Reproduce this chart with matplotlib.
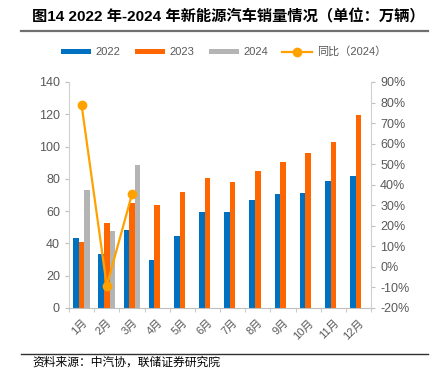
import matplotlib.pyplot as plt
import numpy as np

plt.rcParams['font.family'] = ['Liberation Sans', 'Noto Sans CJK SC', 'DejaVu Sans']

months = ['1月', '2月', '3月', '4月', '5月', '6月', '7月', '8月', '9月', '10月', '11月', '12月']
sales_2022 = [43.2, 33.4, 48.2, 29.9, 44.7, 59.7, 59.3, 66.7, 70.8, 71.2, 78.6, 81.5]
sales_2023 = [40.8, 52.5, 65.3, 63.6, 71.6, 80.5, 78.0, 84.8, 90.4, 95.7, 102.9, 119.4]
sales_2024 = [73.1, 47.8, 88.3]
yoy_2024 = [78.8, -9.2, 35.3]

grey_txt = '#595959'
c22, c23, c24, cline = '#0070C0', '#FF6600', '#B4B4B4', '#FFA200'

fig = plt.figure(figsize=(4.34, 3.71), dpi=100)
ax = fig.add_axes([0.159, 0.170, 0.696, 0.609])
ax2 = ax.twinx()

x = np.arange(len(months))
w = 0.22
b1 = ax.bar(x - w, sales_2022, w, color=c22, label='2022')
b2 = ax.bar(x, sales_2023, w, color=c23, label='2023')
b3 = ax.bar(x[:len(sales_2024)] + w, sales_2024, w, color=c24, label='2024')
l1, = ax2.plot(x[:len(yoy_2024)], yoy_2024, color=cline, lw=1.6, marker='o', ms=6,
               label='同比（2024）')

ax.set_xlim(-0.5, len(months) - 0.5)
ax.set_ylim(0, 140)
ax.set_yticks(range(0, 141, 20))
ax2.set_ylim(-20, 90)
ax2.set_yticks(range(-20, 91, 10))
ax2.set_yticklabels([f'{v}%' for v in range(-20, 91, 10)])

ax.set_xticks(x)
ax.set_xticklabels(months, rotation=45, ha='right', rotation_mode='anchor')
ax.set_xticks(np.arange(-0.5, len(months), 1), minor=True)
ax.tick_params(axis='x', which='major', length=0, colors=grey_txt, labelsize=8, pad=7)
ax.tick_params(axis='x', which='minor', length=3, color='#BFBFBF')
ax.tick_params(axis='y', length=3, color='#BFBFBF', labelcolor=grey_txt, labelsize=9)
ax2.tick_params(axis='y', length=3, color='#BFBFBF', labelcolor=grey_txt, labelsize=9)
for a in (ax, ax2):
    for s in a.spines.values():
        s.set_visible(False)
ax.spines['left'].set_visible(True)
ax.spines['bottom'].set_visible(True)
ax2.spines['right'].set_visible(True)
ax.spines['left'].set_color('#D0D0D0')
ax.spines['bottom'].set_color('#BFBFBF')
ax2.spines['right'].set_color('#D0D0D0')

handles = [b1, b2, b3, l1]
leg = fig.legend(handles, ['2022', '2023', '2024', '同比（2024）'], loc='center',
                 bbox_to_anchor=(0.515, 0.860), ncol=4, frameon=False, fontsize=8,
                 handlelength=2.7, handleheight=0.35, columnspacing=1.3, handletextpad=0.4)
for t in leg.get_texts():
    t.set_color(grey_txt)

fig.text(0.074, 0.955, '图14 2022 年-2024 年新能源汽车销量情况（单位：万辆）',
         fontsize=11, fontweight='bold', va='center', ha='left',
         family=['Liberation Sans', 'Noto Sans CJK SC'])
fig.add_artist(plt.Line2D([0.048, 0.986], [0.917, 0.917], color='#707070', lw=1.6))
fig.add_artist(plt.Line2D([0.048, 0.986], [0.046, 0.046], color='#303030', lw=1.0))
fig.text(0.074, 0.024, '资料来源：中汽协，联储证券研究院', fontsize=8.5, va='center', ha='left',
         family=['Noto Sans CJK SC'])

fig.savefig('out.png', dpi=100)
